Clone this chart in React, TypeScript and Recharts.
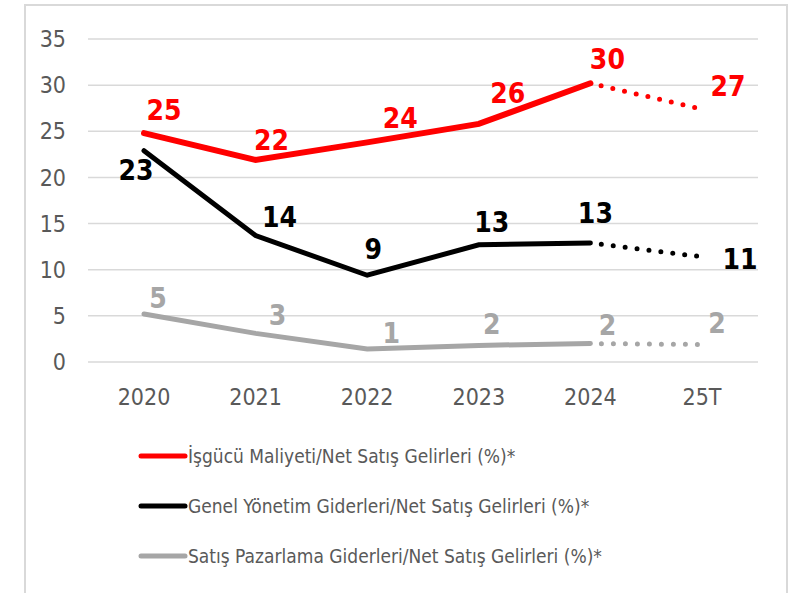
import { CartesianGrid, LabelList, Line, LineChart, XAxis, YAxis } from "recharts";

const years = ["2020", "2021", "2022", "2023", "2024", "25T"];
const labour = [24.8, 21.9, 23.8, 25.8, 30.2, 27.4];
const admin = [22.9, 13.7, 9.4, 12.7, 12.9, 11.4];
const marketing = [5.2, 3.1, 1.4, 1.8, 2.0, 1.9];
const yTicks = [0, 5, 10, 15, 20, 25, 30, 35];
const lastActual = 4; // 2024, after which values are forecast

const series = [
  { key: "labour", name: "İşgücü Maliyeti/Net Satış Gelirleri (%)*", values: labour, color: "#ff0000" },
  { key: "admin", name: "Genel Yönetim Giderleri/Net Satış Gelirleri (%)*", values: admin, color: "#000000" },
  { key: "marketing", name: "Satış Pazarlama Giderleri/Net Satış Gelirleri (%)*", values: marketing, color: "#a6a6a6" },
];

// label nudges per point, roughly where the labels sit in the source
const labelShift: Record<string, number[][]> = {
  labour: [[20, -23], [16, -19], [33, -24], [29, -30], [17, -24], [26, -23]],
  admin: [[-8, 20], [24, -18], [6, -26], [13, -22], [5, -29], [38, 3]],
  marketing: [[14, -16], [22, -18], [24, -16], [13, -21], [17, -18], [15, -21]],
};

const rows = years.map((year, i) => {
  const row: Record<string, string | number | null> = { year };
  series.forEach((s) => {
    row[s.key] = i <= lastActual ? s.values[i] : null;
    row[s.key + "F"] = i >= lastActual ? s.values[i] : null;
  });
  return row;
});

const font = "'Liberation Sans Narrow', 'DejaVu Sans Condensed', 'Roboto', sans-serif";

function makeLabel(key: string, color: string, only?: number) {
  return (props: any) => {
    const { x, y, value, index } = props;
    if (value == null) return null;
    if (only !== undefined && index !== only) return null;
    if (only === undefined && index > lastActual) return null;
    const [dx, dy] = labelShift[key][index];
    return (
      <text
        x={x + dx}
        y={y + dy}
        textAnchor="middle"
        dominantBaseline="central"
        fill={color}
        fontFamily={font}
        fontWeight="bold"
        fontSize={28}
      >
        {Math.round(value)}
      </text>
    );
  };
}

function LegendBox() {
  return (
    <div style={{ position: "absolute", left: 138, top: 431, fontFamily: font, fontSize: 19, color: "#595959" }}>
      {series.map((s) => (
        <div key={s.key} style={{ display: "flex", alignItems: "center", height: 50 }}>
          <svg width={50} height={8} style={{ display: "block" }}>
            <line x1={3} y1={4} x2={47} y2={4} stroke={s.color} strokeWidth={5} strokeLinecap="round" />
          </svg>
          <span>{s.name}</span>
        </div>
      ))}
    </div>
  );
}

export default function App() {
  return (
    <div style={{ position: "absolute", left: 0, top: 0, width: 800, height: 593, background: "#fff", overflow: "hidden" }}>
      <div
        style={{
          position: "absolute",
          left: 24,
          top: 4,
          width: 760,
          height: 620,
          border: "2px solid #d9d9d9",
        }}
      />
      <LineChart width={800} height={593} data={rows} margin={{ top: 39, right: 42, left: 28, bottom: 191 }}>
        <CartesianGrid vertical={false} stroke="#d9d9d9" strokeWidth={1.5} />
        <XAxis
          dataKey="year"
          axisLine={false}
          tickLine={false}
          padding={{ left: 56, right: 56 }}
          tickMargin={21}
          height={40}
          tick={{ fill: "#595959", fontSize: 23, fontFamily: font }}
        />
        <YAxis
          domain={[0, 35]}
          ticks={yTicks}
          interval={0}
          axisLine={false}
          tickLine={false}
          width={60}
          tickMargin={16}
          tick={{ fill: "#595959", fontSize: 23, fontFamily: font }}
        />
        {series.map((s) => (
          <Line
            key={s.key}
            dataKey={s.key}
            stroke={s.color}
            strokeWidth={s.key === "labour" ? 6 : 5}
            strokeLinecap="round"
            dot={false}
            activeDot={false}
            isAnimationActive={false}
            connectNulls={false}
          >
            <LabelList dataKey={s.key} content={makeLabel(s.key, s.color)} />
          </Line>
        ))}
        {series.map((s) => (
          <Line
            key={s.key + "F"}
            dataKey={s.key + "F"}
            stroke={s.color}
            strokeWidth={5}
            strokeDasharray="0 12"
            strokeDashoffset={1}
            strokeLinecap="round"
            dot={false}
            activeDot={false}
            isAnimationActive={false}
          >
            <LabelList dataKey={s.key + "F"} content={makeLabel(s.key, s.color, years.length - 1)} />
          </Line>
        ))}
      </LineChart>
      <LegendBox />
    </div>
  );
}
